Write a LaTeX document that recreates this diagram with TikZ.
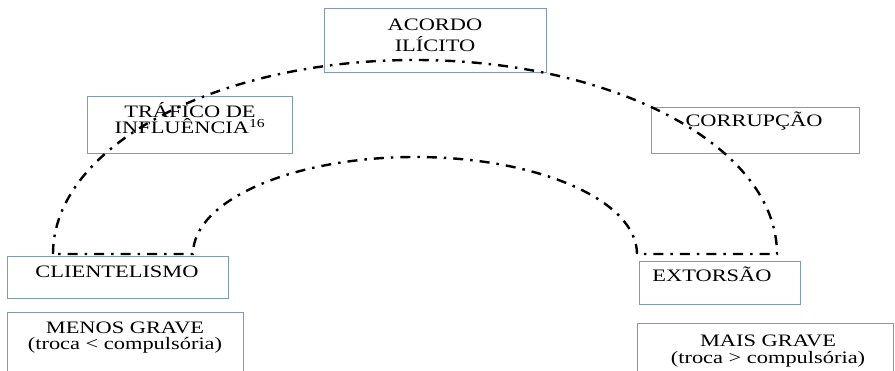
\documentclass[tikz,border=0pt]{standalone}
\usepackage{fontspec}
\setmainfont{Liberation Serif}[FakeStretch=1.28]
\begin{document}
\begin{tikzpicture}[x=1pt,y=-1pt,
  box/.style={draw=boxcol,line width=0.9pt,inner sep=0pt,anchor=north west},
  txt/.style={anchor=base,inner sep=0pt,font=\fontsize{17.5pt}{20pt}\selectfont},
  dashdot/.style={line width=2.4pt,dash pattern=on 10pt off 7pt on 2.5pt off 7pt}]
\definecolor{boxcol}{RGB}{128,152,186}
\clip (0,0) rectangle (895,370);
\fill[white] (0,0) rectangle (895,370);
% boxes
\node[box,minimum width=222pt,minimum height=64pt] (acordo) at (324,8) {};
\node[box,minimum width=205pt,minimum height=57pt] (trafico) at (87,96) {};
\node[box,minimum width=208pt,minimum height=46pt] (corrup) at (651,107) {};
\node[box,minimum width=221pt,minimum height=42pt] (client) at (7,256) {};
\node[box,minimum width=236pt,minimum height=70pt] (menos) at (7,312) {};
\node[box,minimum width=161pt,minimum height=43pt] (extor) at (639,261) {};
\node[box,minimum width=256pt,minimum height=60pt] (mais) at (637,323) {};
% texts
\node[txt] (acordo1) at (435,30.5) {ACORDO};
\node[txt] (acordo2) at (435,51.5) {ILÍCITO};
\node[txt] (trafico1) at (190,117) {TRÁFICO DE};
\node[txt] (trafico2) at (190,133.3) {INFLUÊNCIA\textsuperscript{16}};
\node[txt] (corrup1) at (754,126.7) {CORRUPÇÃO};
\node[txt] (client1) at (117,277) {CLIENTELISMO};
\node[txt] (menos1) at (125,333.3) {MENOS GRAVE};
\node[txt] (menos2) at (125,349.5) {(troca < compulsória)};
\node[txt] (extor1) at (712,281.7) {EXTORSÃO};
\node[txt] (mais1) at (768,346.7) {MAIS GRAVE};
\node[txt] (mais2) at (768,363) {(troca > compulsória)};
% dash-dot arch
\draw[dashdot] (53,254) .. controls (53,146.9) and (215.1,60) .. (415,60)
  .. controls (614.9,60) and (777,146.9) .. (777,254)
  -- (637,254) .. controls (637,200.4) and (537.6,157) .. (415,157)
  .. controls (292.4,157) and (193,200.4) .. (193,254) -- cycle;
\end{tikzpicture}
\end{document}
